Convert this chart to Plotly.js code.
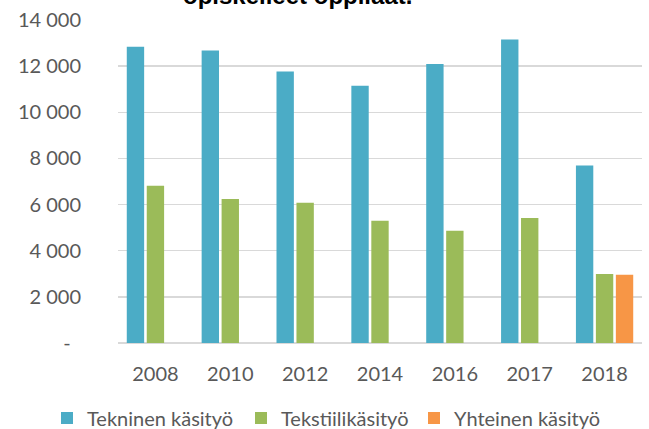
<!DOCTYPE html>
<html>
<head>
<meta charset="utf-8">
<script src="https://cdn.plot.ly/plotly-3.0.1.min.js"></script>
<style>html,body{margin:0;padding:0;background:#fff;}#chart{width:649px;height:429px;}</style>
</head>
<body>
<div id="chart"></div>
<script>
const years = ['2008', '2010', '2012', '2014', '2016', '2017', '2018'];
const tekninen = [12840, 12680, 11770, 11150, 12090, 13150, 7690];
const tekstiili = [6820, 6240, 6080, 5300, 4870, 5420, 2990];
const yhteinen = [null, null, null, null, null, null, 2960];
const seriesNames = ['Tekninen käsityö', 'Tekstiilikäsityö', 'Yhteinen käsityö'];
const yTickVals = [0, 2000, 4000, 6000, 8000, 10000, 12000, 14000];
const yTickText = ['-\u00a0\u00a0', '2 000', '4 000', '6 000', '8 000', '10 000', '12 000', '14 000'];
const titleText = 'opiskelleet oppilaat.';

const colors = ['#4BACC6', '#9BBB59', '#F79646'];
const legendIds = ['legend', 'legend2', 'legend3'];
const legendLeft = [47, 241, 414];
const values = [tekninen, tekstiili, yhteinen];
const traces = values.map((v, i) => ({
  type: 'bar',
  x: years,
  y: v,
  name: seriesNames[i],
  legend: legendIds[i],
  marker: {color: colors[i], line: {width: 0}},
  hoverinfo: 'x+y+name'
}));

const font = 'Lato, "Open Sans", sans-serif';
const layout = {
  width: 649,
  height: 429,
  margin: {l: 118, r: 7, t: 20, b: 86},
  paper_bgcolor: '#ffffff',
  plot_bgcolor: '#ffffff',
  barmode: 'group',
  bargap: 0.2,
  bargroupgap: 0.13,
  font: {family: font, size: 20, color: '#595959'},
  annotations: [{
    text: '<b>' + titleText + '</b>',
    xref: 'paper', x: 0.3435, xanchor: 'center',
    yref: 'paper', y: 1.027, yanchor: 'bottom',
    showarrow: false,
    font: {family: '"Liberation Sans", Arial, sans-serif', size: 24, color: '#000000'}
  }],
  xaxis: {
    type: 'category',
    showgrid: false,
    showline: false,
    zeroline: false,
    ticks: '',
    ticklabelstandoff: 17,
    tickfont: {family: font, size: 20, color: '#595959'}
  },
  yaxis: {
    range: [0, 14000],
    tickvals: yTickVals,
    ticktext: yTickText,
    showgrid: true,
    gridcolor: '#d9d9d9',
    gridwidth: 1.5,
    zeroline: true,
    zerolinecolor: '#d9d9d9',
    zerolinewidth: 1.5,
    showline: false,
    ticks: '',
    ticklabelstandoff: 36,
    tickfont: {family: font, size: 20, color: '#595959'}
  },
  showlegend: true
};
legendIds.forEach((id, i) => {
  layout[id] = {
    orientation: 'h',
    xref: 'container', x: legendLeft[i] / 649, xanchor: 'left',
    yref: 'container', y: 1 - 418 / 429, yanchor: 'middle',
    font: {family: font, size: 20, color: '#595959'},
    bgcolor: 'rgba(0,0,0,0)',
    borderwidth: 0,
    itemwidth: 30
  };
});

Plotly.newPlot('chart', traces, layout, {displayModeBar: false, staticPlot: true});
</script>
</body>
</html>
